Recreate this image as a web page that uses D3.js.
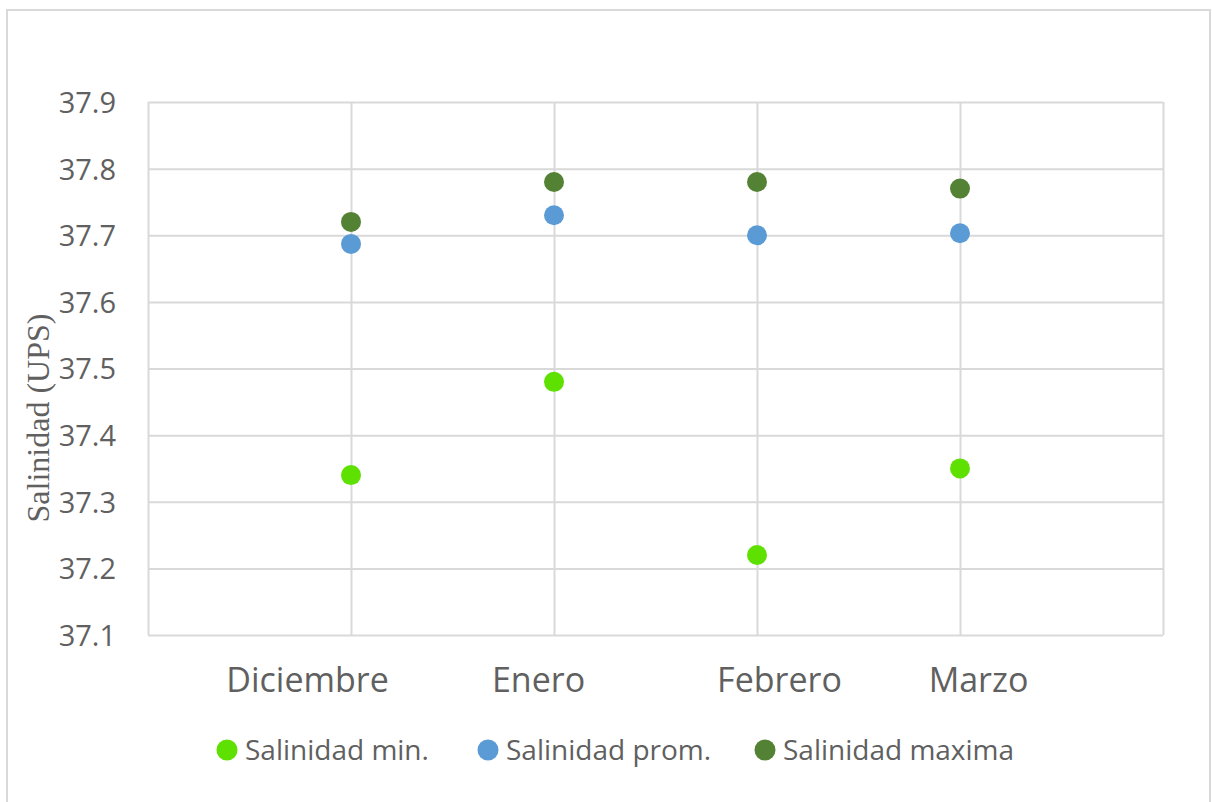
<!DOCTYPE html>
<html>
<head>
<meta charset="utf-8">
<script src="https://cdn.jsdelivr.net/npm/d3@7"></script>
<style>
  html, body { margin: 0; padding: 0; background: #fff; }
  svg { display: block; }
</style>
</head>
<body>
<svg id="chart" width="1212" height="802"></svg>
<script>
// Monthly salinity readings (UPS)
const months = ["Diciembre", "Enero", "Febrero", "Marzo"];
const salMin = [37.34, 37.48, 37.22, 37.35];
const salProm = [37.687, 37.73, 37.70, 37.703];
const salMax = [37.72, 37.78, 37.78, 37.77];
const yTicks = [37.1, 37.2, 37.3, 37.4, 37.5, 37.6, 37.7, 37.8, 37.9];
const seriesNames = ["Salinidad min.", "Salinidad prom.", "Salinidad maxima"];

const colors = ["#5ee000", "#5b9bd5", "#548235"];
const series = [salMin, salProm, salMax];

const svg = d3.select("#chart");
const plot = { left: 148, right: 1163, top: 102, bottom: 635 };
const grid = "#d9d9d9";
const textCol = "#606060";

// outer frame
svg.append("rect")
  .attr("x", 7).attr("y", 10)
  .attr("width", 1203).attr("height", 800)
  .attr("fill", "none").attr("stroke", grid).attr("stroke-width", 2);

// months sit at positions 1..4 of a 0..5 axis
const x = d3.scaleLinear().domain([0, months.length + 1]).range([plot.left, plot.right]);
const y = d3.scaleLinear().domain([37.1, 37.9]).range([plot.bottom, plot.top]);

// horizontal gridlines with labels
const yAxis = d3.axisLeft(y)
  .tickValues(yTicks)
  .tickFormat(d3.format(".1f"))
  .tickSize(-(plot.right - plot.left))
  .tickPadding(32);
const gy = svg.append("g").attr("transform", `translate(${plot.left},0)`).call(yAxis);
gy.select(".domain").remove();
gy.selectAll(".tick line").attr("stroke", grid).attr("stroke-width", 2);
gy.selectAll(".tick text")
  .attr("fill", textCol)
  .attr("font-family", "'Open Sans', sans-serif")
  .attr("font-size", 29)
  .attr("dy", "0.36em");

// vertical gridlines at each month and the plot edges
const xTickVals = d3.range(0, months.length + 2);
const xAxis = d3.axisBottom(x)
  .tickValues(xTickVals)
  .tickSize(-(plot.bottom - plot.top))
  .tickFormat(d => (d >= 1 && d <= months.length) ? months[d - 1] : "")
  .tickPadding(33);
const gx = svg.append("g").attr("transform", `translate(0,${plot.bottom})`).call(xAxis);
gx.select(".domain").remove();
gx.selectAll(".tick line").attr("stroke", grid).attr("stroke-width", 2);
const labelNudge = [0, -44, -16, 22, 18, 0];
gx.selectAll(".tick text")
  .attr("fill", textCol)
  .attr("font-family", "'Open Sans', sans-serif")
  .attr("font-size", 34)
  .attr("dx", (d, i) => labelNudge[i]);

// points
series.forEach((vals, si) => {
  svg.append("g").selectAll("circle")
    .data(vals)
    .join("circle")
    .attr("cx", (d, i) => x(i + 1))
    .attr("cy", d => y(d))
    .attr("r", 10)
    .attr("fill", colors[si]);
});

// y axis title
svg.append("text")
  .attr("transform", "translate(49,418) rotate(-90)")
  .attr("text-anchor", "middle")
  .attr("fill", textCol)
  .attr("font-family", "'Liberation Serif', 'Times New Roman', serif")
  .attr("font-size", 32)
  .text("Salinidad (UPS)");

// legend
const legendX = [227, 488, 765];
const legend = svg.append("g");
seriesNames.forEach((name, i) => {
  legend.append("circle")
    .attr("cx", legendX[i]).attr("cy", 750).attr("r", 10.5)
    .attr("fill", colors[i]);
  legend.append("text")
    .attr("x", legendX[i] + 18).attr("y", 760)
    .attr("fill", textCol)
    .attr("font-family", "'Open Sans', sans-serif")
    .attr("font-size", 28)
    .text(name);
});
</script>
</body>
</html>
